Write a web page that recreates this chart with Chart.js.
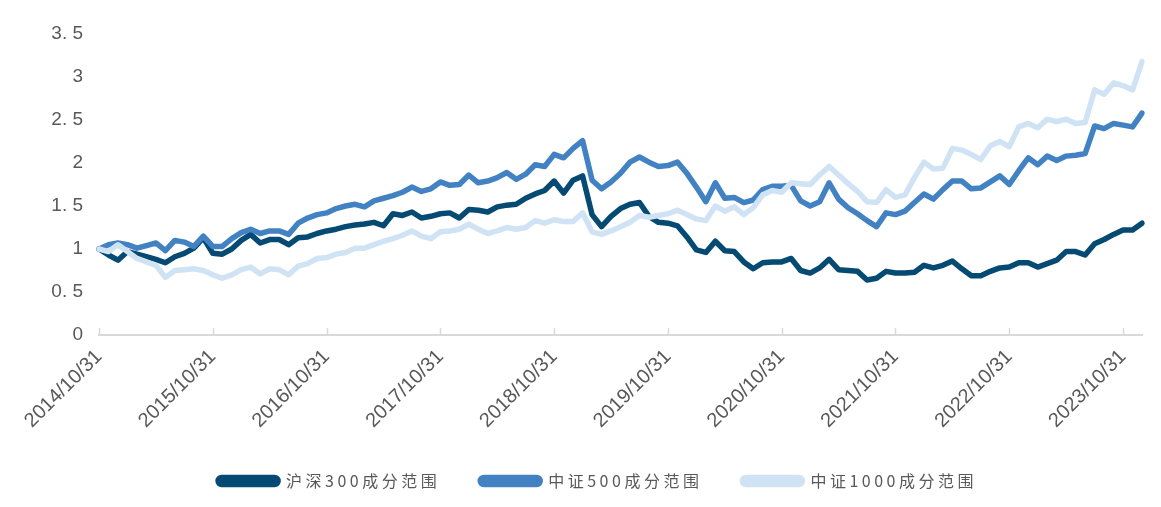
<!DOCTYPE html>
<html>
<head>
<meta charset="utf-8">
<script src="https://cdn.jsdelivr.net/npm/chart.js@4.4.1/dist/chart.umd.min.js"></script>
<style>
  html, body { margin: 0; padding: 0; background: #fff; }
  #wrap { width: 1161px; height: 507px; }
</style>
</head>
<body>
<div id="wrap"><canvas id="lineChart"></canvas></div>
<script>
// series names
var seriesNames = ['沪深300成分范围', '中证500成分范围', '中证1000成分范围'];

// x tick labels (one per year)
var tickLabels = ['2014/10/31', '2015/10/31', '2016/10/31', '2017/10/31', '2018/10/31',
    '2019/10/31', '2020/10/31', '2021/10/31', '2022/10/31', '2023/10/31'];

// y ticks
var yMin = 0, yMax = 3.5, yStep = 0.5;

// monthly values, 2014/10 .. 2023/12
var hs300 = [
    1.00, 0.93, 0.87, 0.97, 0.94, 0.91, 0.88, 0.84, 0.91, 0.95, 1.01, 1.13,
    0.95, 0.94, 1.00, 1.10, 1.17, 1.07, 1.11, 1.11, 1.05, 1.13, 1.14, 1.18,
    1.21, 1.23, 1.26, 1.28, 1.29, 1.31, 1.27, 1.41, 1.39, 1.43, 1.36, 1.38,
    1.41, 1.42, 1.36, 1.46, 1.45, 1.43, 1.49, 1.51, 1.52, 1.59, 1.64, 1.68,
    1.79, 1.65, 1.80, 1.85, 1.40, 1.26, 1.38, 1.47, 1.52, 1.54, 1.38, 1.31,
    1.30, 1.27, 1.14, 0.99, 0.96, 1.09, 0.98, 0.97, 0.85, 0.77, 0.84, 0.85,
    0.85, 0.89, 0.75, 0.72, 0.78, 0.88, 0.76, 0.75, 0.74, 0.64, 0.66, 0.74,
    0.72, 0.72, 0.73, 0.81, 0.78, 0.81, 0.86, 0.77, 0.69, 0.69, 0.74, 0.78,
    0.79, 0.84, 0.84, 0.79, 0.83, 0.87, 0.97, 0.97, 0.93, 1.06, 1.11, 1.17,
    1.22, 1.22, 1.30
];
var zz500 = [
    1.00, 1.05, 1.07, 1.05, 1.01, 1.04, 1.07, 0.98, 1.10, 1.08, 1.03, 1.15,
    1.03, 1.03, 1.12, 1.19, 1.23, 1.18, 1.21, 1.21, 1.17, 1.30, 1.36, 1.40,
    1.42, 1.47, 1.50, 1.52, 1.49, 1.56, 1.59, 1.62, 1.66, 1.72, 1.67, 1.70,
    1.78, 1.74, 1.75, 1.86, 1.77, 1.79, 1.83, 1.89, 1.81, 1.87, 1.98, 1.96,
    2.10, 2.06, 2.17, 2.26, 1.80, 1.70, 1.78, 1.88, 2.01, 2.07, 2.01, 1.96,
    1.97, 2.01, 1.88, 1.72, 1.55, 1.77, 1.59, 1.60, 1.54, 1.57, 1.69, 1.73,
    1.73, 1.74, 1.56, 1.50, 1.55, 1.77, 1.58, 1.48, 1.41, 1.33, 1.26, 1.42,
    1.40, 1.44, 1.54, 1.64, 1.58, 1.69, 1.79, 1.79, 1.70, 1.71, 1.78, 1.85,
    1.75, 1.91, 2.06, 1.98, 2.08, 2.03, 2.08, 2.09, 2.11, 2.43, 2.40, 2.46,
    2.44, 2.42, 2.58
];
var zz1000 = [
    1.00, 0.97, 1.05, 0.97, 0.89, 0.85, 0.81, 0.67, 0.75, 0.76, 0.77, 0.75,
    0.70, 0.66, 0.70, 0.76, 0.79, 0.71, 0.77, 0.76, 0.70, 0.80, 0.83, 0.89,
    0.90, 0.94, 0.96, 1.01, 1.01, 1.05, 1.09, 1.12, 1.16, 1.21, 1.15, 1.12,
    1.20, 1.21, 1.23, 1.29, 1.23, 1.18, 1.21, 1.25, 1.23, 1.25, 1.33, 1.30,
    1.34, 1.32, 1.32, 1.42, 1.20, 1.17, 1.21, 1.26, 1.31, 1.39, 1.37, 1.39,
    1.41, 1.45, 1.40, 1.35, 1.33, 1.50, 1.44, 1.49, 1.40, 1.48, 1.63, 1.68,
    1.66, 1.77, 1.76, 1.75, 1.86, 1.96, 1.86, 1.76, 1.67, 1.55, 1.54, 1.69,
    1.60, 1.63, 1.83, 2.01, 1.93, 1.94, 2.17, 2.15, 2.10, 2.04, 2.20, 2.25,
    2.19, 2.42, 2.46, 2.41, 2.51, 2.48, 2.51, 2.46, 2.47, 2.85, 2.80, 2.93,
    2.90, 2.85, 3.18
];

// month-end category labels
var months = [];
for (var i = 0; i < hs300.length; i++) {
    var d = new Date(2014, 10 + i, 0);
    months.push(d.getFullYear() + '/' + (d.getMonth() + 1) + '/' + d.getDate());
}

var colors = ['#044a72', '#4282c3', '#d0e3f4'];
var textColor = '#595959';
var axisColor = '#d9d9d9';

// small tick marks pointing up from the x axis, one per year
var upTicks = {
    id: 'upTicks',
    afterDraw: function (chart) {
        var x = chart.scales.x, ctx = chart.ctx;
        ctx.save();
        ctx.strokeStyle = axisColor;
        ctx.lineWidth = 1.5;
        for (var i = 0; i < months.length; i += 12) {
            var px = Math.round(x.getPixelForTick(i)) + 0.5;
            ctx.beginPath();
            ctx.moveTo(px, x.top);
            ctx.lineTo(px, x.top - 7);
            ctx.stroke();
        }
        ctx.restore();
    }
};

var datasets = [hs300, zz500, zz1000].map(function (arr, k) {
    return {
        label: seriesNames[k],
        data: arr,
        borderColor: colors[k],
        backgroundColor: colors[k],
        borderWidth: 5.5,
        pointRadius: 0,
        tension: 0,
        borderJoinStyle: 'round',
        borderCapStyle: 'round',
        order: 2 - k
    };
});

var ctx = document.getElementById('lineChart').getContext('2d');
var chart = new Chart(ctx, {
    type: 'line',
    data: { labels: months, datasets: datasets },
    plugins: [upTicks],
    options: {
        responsive: true,
        maintainAspectRatio: false,
        animation: false,
        layout: { padding: { top: 34, right: 18, left: 0, bottom: 8 } },
        plugins: {
            tooltip: { enabled: false },
            legend: {
                position: 'bottom',
                labels: {
                    color: textColor,
                    font: { family: "'Noto Sans CJK SC', 'Liberation Sans', sans-serif", size: 16 },
                    boxWidth: 60,
                    boxHeight: 7,
                    useBorderRadius: true,
                    borderRadius: 3.5,
                    padding: 40,
                    sort: function (a, b) { return a.datasetIndex - b.datasetIndex; }
                }
            }
        },
        scales: {
            x: {
                type: 'category',
                offset: false,
                grid: { display: false },
                border: { display: true, color: axisColor, width: 2 },
                ticks: {
                    autoSkip: false,
                    maxRotation: 45,
                    minRotation: 45,
                    padding: 2,
                    color: textColor,
                    font: { family: "'Liberation Sans', Arial, sans-serif", size: 20 },
                    callback: function (value, index) {
                        return index % 12 === 0 ? tickLabels[index / 12] : '';
                    }
                },
                afterFit: function (scale) { scale.height = 98; }
            },
            y: {
                min: yMin,
                max: yMax,
                grid: { display: false },
                border: { display: false },
                ticks: {
                    stepSize: yStep,
                    padding: 8,
                    color: textColor,
                    font: { family: "'Liberation Sans', Arial, sans-serif", size: 19 },
                    callback: function (value) { return String(value).replace('.', '. '); }
                },
                afterFit: function (scale) { scale.width = 99; }
            }
        }
    }
});

// legend text in the original is letter-spaced and sits a bit right of centre
['fit', 'draw'].forEach(function (m) {
    var orig = chart.legend[m];
    chart.legend[m] = function () {
        var c = this.ctx, prev = c.letterSpacing;
        c.save();
        c.letterSpacing = '3.5px';
        if (m === 'draw') c.translate(26, 0);
        var r = orig.apply(this, arguments);
        c.restore();
        c.letterSpacing = prev;
        return r;
    };
});
chart.update();
</script>
</body>
</html>
